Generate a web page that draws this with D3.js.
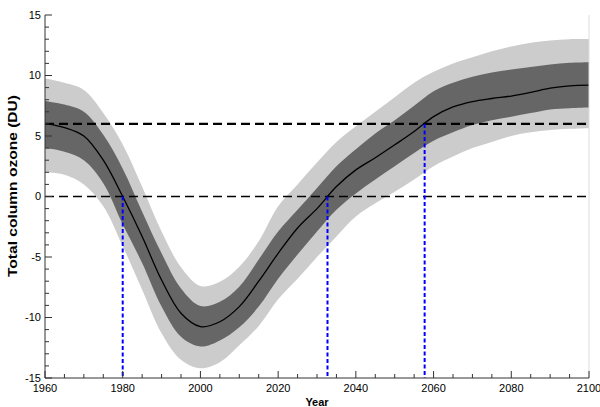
<!DOCTYPE html>
<html>
<head>
<meta charset="utf-8">
<script src="https://cdn.jsdelivr.net/npm/d3@7"></script>
<style>
  body { margin: 0; background: #fff; }
  svg { display: block; font-family: 'Liberation Sans', Arial, sans-serif; }
</style>
</head>
<body>
<div id="chart"></div>
<script>
// values, every 5 years
const years = [1960, 1965, 1970, 1975, 1980, 1985, 1990, 1995, 2000, 2005,
  2010, 2015, 2020, 2025, 2030, 2035, 2040, 2045, 2050, 2055,
  2060, 2065, 2070, 2075, 2080, 2085, 2090, 2095, 2100];

const meanOzone = [6.05, 5.7, 5.0, 3.0, 0.0, -3.3, -6.9, -9.65, -10.75, -10.35,
  -9.1, -7.0, -4.7, -2.6, -1.0, 0.82, 2.2, 3.2, 4.27, 5.37,
  6.6, 7.4, 7.85, 8.1, 8.3, 8.6, 8.95, 9.15, 9.2];

const innerUpper = [7.9, 7.6, 7.0, 5.1, 2.3, -1.25, -4.7, -7.6, -9.05, -8.7,
  -7.45, -5.2, -2.9, -1.1, 0.7, 2.5, 3.9, 5.2, 6.3, 7.5,
  8.7, 9.4, 9.9, 10.25, 10.5, 10.7, 10.9, 11.05, 11.1];

const innerLower = [4.0, 3.7, 3.0, 1.1, -2.3, -5.5, -9.1, -11.6, -12.4, -11.9,
  -10.8, -9.1, -6.8, -4.8, -2.9, -1.1, 0.25, 1.4, 2.5, 3.6,
  4.6, 5.3, 5.9, 6.3, 6.6, 6.9, 7.2, 7.3, 7.35];

const outerUpper = [9.75, 9.4, 8.8, 6.9, 4.3, 0.8, -2.9, -5.85, -7.4, -7.05,
  -5.8, -3.7, -0.8, 1.0, 2.8, 4.5, 5.8, 7.0, 8.2, 9.4,
  10.3, 11.0, 11.5, 12.0, 12.4, 12.7, 12.9, 13.0, 13.0];

const outerLower = [2.0, 1.8, 1.0, -0.8, -4.1, -7.7, -11.3, -13.5, -14.2, -13.7,
  -12.3, -10.7, -8.5, -6.8, -5.0, -3.3, -1.65, -0.55, 0.4, 1.4,
  2.5, 3.3, 4.0, 4.5, 5.0, 5.3, 5.5, 5.6, 5.65];

// horizontal reference levels and the years where the mean reaches them
const levels = [6, 0];
const crossings = [
  { year: 1980, value: 0 },
  { year: 2032.7, value: 0 },
  { year: 2057.7, value: 6 },
];

const yTicks = [-15, -10, -5, 0, 5, 10, 15];
const xTicks = [1960, 1980, 2000, 2020, 2040, 2060, 2080, 2100];

const rows = years.map((year, i) => ({
  year,
  mean: meanOzone[i],
  innerUpper: innerUpper[i],
  innerLower: innerLower[i],
  outerUpper: outerUpper[i],
  outerLower: outerLower[i],
}));

const width = 600;
const height = 407;
const margin = { top: 15, right: 11, bottom: 29, left: 45 };

const svg = d3.select('#chart')
  .append('svg')
  .attr('width', width)
  .attr('height', height);

const x = d3.scaleLinear()
  .domain([1960, 2100])
  .range([margin.left, width - margin.right]);

const y = d3.scaleLinear()
  .domain([-15, 15])
  .range([height - margin.bottom, margin.top]);

// BANDS

const curve = d3.curveCatmullRom.alpha(0.5);

svg.append('path')
  .datum(rows)
  .attr('fill', '#cccccc')
  .attr('d', d3.area()
    .curve(curve)
    .x((d) => x(d.year))
    .y0((d) => y(d.outerLower))
    .y1((d) => y(d.outerUpper)));

svg.append('path')
  .datum(rows)
  .attr('fill', '#666666')
  .attr('d', d3.area()
    .curve(curve)
    .x((d) => x(d.year))
    .y0((d) => y(d.innerLower))
    .y1((d) => y(d.innerUpper)));

svg.append('path')
  .datum(rows)
  .attr('fill', 'none')
  .attr('stroke', '#000')
  .attr('stroke-width', 1.3)
  .attr('d', d3.line()
    .curve(curve)
    .x((d) => x(d.year))
    .y((d) => y(d.mean)));

// REFERENCE LINES

svg.append('g')
  .selectAll('line')
  .data(levels)
  .join('line')
  .attr('x1', x(1960))
  .attr('x2', x(2100))
  .attr('y1', (d) => y(d))
  .attr('y2', (d) => y(d))
  .attr('stroke', '#000')
  .attr('stroke-width', (d) => (d === 6 ? 2.4 : 1.6))
  .attr('stroke-dasharray', '9,5');

svg.append('g')
  .selectAll('line')
  .data(crossings)
  .join('line')
  .attr('x1', (d) => x(d.year))
  .attr('x2', (d) => x(d.year))
  .attr('y1', (d) => y(d.value))
  .attr('y2', y(-15))
  .attr('stroke', '#0000ff')
  .attr('stroke-width', 2)
  .attr('stroke-dasharray', '4,2.5');

// right frame edge
svg.append('line')
  .attr('x1', x(2100))
  .attr('x2', x(2100))
  .attr('y1', y(15))
  .attr('y2', y(-15))
  .attr('stroke', '#dddddd');

// AXES

const yAxis = svg.append('g')
  .attr('transform', `translate(${margin.left},0)`);

yAxis.append('line')
  .attr('y1', y(15))
  .attr('y2', y(-15))
  .attr('stroke', '#333');

yAxis.selectAll('.minor')
  .data(d3.range(-15, 16, 1))
  .join('line')
  .attr('class', 'minor')
  .attr('x2', (d) => (d % 5 === 0 ? 7 : 4))
  .attr('y1', (d) => y(d))
  .attr('y2', (d) => y(d))
  .attr('stroke', '#333');

yAxis.selectAll('text')
  .data(yTicks)
  .join('text')
  .attr('x', -4)
  .attr('y', (d) => y(d))
  .attr('dy', '0.35em')
  .attr('text-anchor', 'end')
  .attr('font-size', 11)
  .text((d) => d);

const xAxis = svg.append('g')
  .attr('transform', `translate(0,${y(-15)})`);

xAxis.append('line')
  .attr('x1', x(1960))
  .attr('x2', x(2100))
  .attr('stroke', '#333');

xAxis.selectAll('.minor')
  .data(d3.range(1960, 2101, 5))
  .join('line')
  .attr('class', 'minor')
  .attr('x1', (d) => x(d))
  .attr('x2', (d) => x(d))
  .attr('y2', (d) => (d % 20 === 0 ? -7 : -4))
  .attr('stroke', '#333');

xAxis.selectAll('text')
  .data(xTicks)
  .join('text')
  .attr('x', (d) => x(d))
  .attr('y', 14)
  .attr('text-anchor', 'middle')
  .attr('font-size', 11)
  .text((d) => d);

// TITLES

svg.append('text')
  .attr('x', (x(1960) + x(2100)) / 2)
  .attr('y', 406)
  .attr('text-anchor', 'middle')
  .attr('font-size', 11)
  .attr('font-weight', 'bold')
  .text('Year');

svg.append('text')
  .attr('transform', 'translate(17,186) rotate(-90)')
  .attr('text-anchor', 'middle')
  .attr('font-size', 12)
  .attr('font-weight', 'bold')
  .attr('textLength', 182)
  .attr('lengthAdjust', 'spacingAndGlyphs')
  .text('Total column ozone (DU)');
</script>
</body>
</html>
